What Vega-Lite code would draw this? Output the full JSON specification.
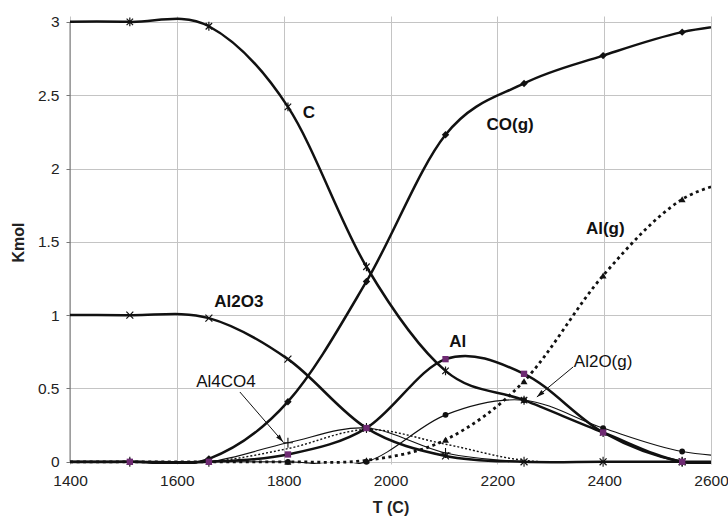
{
  "$schema": "https://vega.github.io/schema/vega-lite/v6.json",
  "width": 641,
  "height": 448,
  "autosize": {"type": "none"},
  "padding": {"left": 70, "top": 16, "right": 17, "bottom": 58},
  "background": "white",
  "config": {"view": {"stroke": null}, "font": "Liberation Sans"},
  "datasets": {
    "series": [
      {"T": 1364, "s": "C", "v": 3}, {"T": 1512, "s": "C", "v": 3}, {"T": 1660, "s": "C", "v": 2.97}, {"T": 1808, "s": "C", "v": 2.42}, {"T": 1955, "s": "C", "v": 1.33}, {"T": 2103, "s": "C", "v": 0.62}, {"T": 2250, "s": "C", "v": 0.42}, {"T": 2398, "s": "C", "v": 0.2}, {"T": 2546, "s": "C", "v": 0}, {"T": 2694, "s": "C", "v": 0},
      {"T": 1364, "s": "CO(g)", "v": 0}, {"T": 1512, "s": "CO(g)", "v": 0}, {"T": 1660, "s": "CO(g)", "v": 0.02}, {"T": 1808, "s": "CO(g)", "v": 0.41}, {"T": 1955, "s": "CO(g)", "v": 1.23}, {"T": 2103, "s": "CO(g)", "v": 2.23}, {"T": 2250, "s": "CO(g)", "v": 2.58}, {"T": 2398, "s": "CO(g)", "v": 2.77}, {"T": 2546, "s": "CO(g)", "v": 2.93}, {"T": 2694, "s": "CO(g)", "v": 3.0},
      {"T": 1364, "s": "Al2O3", "v": 1}, {"T": 1512, "s": "Al2O3", "v": 1}, {"T": 1660, "s": "Al2O3", "v": 0.98}, {"T": 1808, "s": "Al2O3", "v": 0.7}, {"T": 1955, "s": "Al2O3", "v": 0.23}, {"T": 2103, "s": "Al2O3", "v": 0.04}, {"T": 2250, "s": "Al2O3", "v": 0}, {"T": 2398, "s": "Al2O3", "v": 0}, {"T": 2546, "s": "Al2O3", "v": 0}, {"T": 2694, "s": "Al2O3", "v": 0},
      {"T": 1364, "s": "Al", "v": 0}, {"T": 1512, "s": "Al", "v": 0}, {"T": 1660, "s": "Al", "v": 0}, {"T": 1808, "s": "Al", "v": 0.05}, {"T": 1955, "s": "Al", "v": 0.23}, {"T": 2103, "s": "Al", "v": 0.7}, {"T": 2250, "s": "Al", "v": 0.6}, {"T": 2398, "s": "Al", "v": 0.2}, {"T": 2546, "s": "Al", "v": 0}, {"T": 2694, "s": "Al", "v": 0},
      {"T": 1364, "s": "Al(g)", "v": 0}, {"T": 1512, "s": "Al(g)", "v": 0}, {"T": 1660, "s": "Al(g)", "v": 0}, {"T": 1808, "s": "Al(g)", "v": 0}, {"T": 1955, "s": "Al(g)", "v": 0.01}, {"T": 2103, "s": "Al(g)", "v": 0.15}, {"T": 2250, "s": "Al(g)", "v": 0.55}, {"T": 2398, "s": "Al(g)", "v": 1.27}, {"T": 2546, "s": "Al(g)", "v": 1.79}, {"T": 2694, "s": "Al(g)", "v": 1.95},
      {"T": 1364, "s": "Al2O(g)", "v": 0}, {"T": 1512, "s": "Al2O(g)", "v": 0}, {"T": 1660, "s": "Al2O(g)", "v": 0}, {"T": 1808, "s": "Al2O(g)", "v": 0}, {"T": 1955, "s": "Al2O(g)", "v": 0}, {"T": 2103, "s": "Al2O(g)", "v": 0.32}, {"T": 2250, "s": "Al2O(g)", "v": 0.42}, {"T": 2398, "s": "Al2O(g)", "v": 0.23}, {"T": 2546, "s": "Al2O(g)", "v": 0.07}, {"T": 2694, "s": "Al2O(g)", "v": 0.03},
      {"T": 1364, "s": "Al4CO4", "v": 0}, {"T": 1512, "s": "Al4CO4", "v": 0}, {"T": 1660, "s": "Al4CO4", "v": 0}, {"T": 1808, "s": "Al4CO4", "v": 0.13}, {"T": 1955, "s": "Al4CO4", "v": 0.23}, {"T": 2103, "s": "Al4CO4", "v": 0.06}, {"T": 2250, "s": "Al4CO4", "v": 0}, {"T": 2398, "s": "Al4CO4", "v": 0}, {"T": 2546, "s": "Al4CO4", "v": 0}, {"T": 2694, "s": "Al4CO4", "v": 0},
      {"T": 1364, "s": "Al4C3", "v": 0}, {"T": 1512, "s": "Al4C3", "v": 0}, {"T": 1660, "s": "Al4C3", "v": 0}, {"T": 1808, "s": "Al4C3", "v": 0.09}, {"T": 1955, "s": "Al4C3", "v": 0.22}, {"T": 2103, "s": "Al4C3", "v": 0.12}, {"T": 2250, "s": "Al4C3", "v": 0.01}, {"T": 2398, "s": "Al4C3", "v": 0}, {"T": 2546, "s": "Al4C3", "v": 0}, {"T": 2694, "s": "Al4C3", "v": 0}
    ],
    "labelsBold": [
      {"T": 1847, "v": 2.38, "label": "C"},
      {"T": 2224, "v": 2.30, "label": "CO(g)"},
      {"T": 2402, "v": 1.59, "label": "Al(g)"},
      {"T": 1716, "v": 1.09, "label": "Al2O3"},
      {"T": 2126, "v": 0.817, "label": "Al"}
    ],
    "labelsPlain": [
      {"T": 1692, "v": 0.544, "label": "Al4CO4"},
      {"T": 2398, "v": 0.68, "label": "Al2O(g)"}
    ],
    "arrows": [
      {"name": "Al4CO4", "T": 1718, "v": 0.476, "T2": 1799, "v2": 0.135},
      {"name": "Al2O(g)", "T": 2342, "v": 0.647, "T2": 2274, "v2": 0.442}
    ],
    "tips": [
      {"name": "Al4CO4", "T": 1799, "v": 0.135},
      {"name": "Al2O(g)", "T": 2274, "v": 0.442}
    ],
    "axisLine": [
      {"T": 1400, "v": 0, "v2": 3}
    ]
  },
  "data": {"name": "series"},
  "encoding": {
    "x": {
      "field": "T", "type": "quantitative",
      "scale": {"domain": [1400, 2600], "nice": false, "zero": false},
      "axis": {
        "title": "T (C)", "values": [1400, 1600, 1800, 2000, 2200, 2400, 2600], "format": "d",
        "grid": true, "gridColor": "#c4c4c4", "gridWidth": 1, "domain": false, "ticks": false,
        "labelFont": "Liberation Sans", "labelFontSize": 15.5, "labelColor": "#222", "labelPadding": 9,
        "labelFlush": false, "labelOverlap": false,
        "titleFont": "Liberation Sans", "titleFontSize": 16, "titleFontWeight": "bold", "titleColor": "#222",
        "titleX": 320.5, "titleY": 43, "titleBaseline": "middle", "titleAlign": "center"
      }
    },
    "y": {
      "field": "v", "type": "quantitative",
      "scale": {"domain": [-0.015, 3.04], "nice": false, "zero": false},
      "axis": {
        "title": "Kmol", "values": [0, 0.5, 1, 1.5, 2, 2.5, 3], "format": "~g",
        "grid": true, "gridColor": "#c4c4c4", "gridWidth": 1,
        "domain": false, "ticks": true, "tickColor": "#777", "tickSize": 4,
        "labelFont": "Liberation Sans", "labelFontSize": 15.5, "labelColor": "#222", "labelPadding": 7,
        "titleFont": "Liberation Sans", "titleFontSize": 16, "titleFontWeight": "bold", "titleColor": "#222",
        "titleX": -52, "titleY": 226, "titleAngle": -90, "titleBaseline": "middle", "titleAlign": "center"
      }
    }
  },
  "layer": [
    {
      "data": {"name": "axisLine"},
      "mark": {"type": "rule", "strokeWidth": 1, "color": "#777"},
      "encoding": {"y2": {"field": "v2"}}
    },
    {
      "transform": [{"filter": {"field": "s", "oneOf": ["Al4C3"]}}],
      "mark": {"type": "line", "interpolate": "cardinal", "strokeWidth": 1.4, "strokeDash": [2, 2], "color": "#111", "clip": true},
      "encoding": {"detail": {"field": "s"}}
    },
    {
      "transform": [{"filter": {"field": "s", "oneOf": ["Al2O(g)", "Al4CO4"]}}],
      "mark": {"type": "line", "interpolate": "cardinal", "strokeWidth": 1.1, "color": "#111", "clip": true},
      "encoding": {"detail": {"field": "s"}}
    },
    {
      "transform": [{"filter": {"field": "s", "oneOf": ["Al(g)"]}}],
      "mark": {"type": "line", "interpolate": "cardinal", "strokeWidth": 2.8, "strokeDash": [3, 3.5], "color": "#111", "clip": true},
      "encoding": {"detail": {"field": "s"}}
    },
    {
      "transform": [{"filter": {"field": "s", "oneOf": ["C", "CO(g)", "Al2O3", "Al"]}}],
      "mark": {"type": "line", "interpolate": "cardinal", "strokeWidth": 2.5, "color": "#111", "clip": true},
      "encoding": {"detail": {"field": "s"}}
    },
    {
      "transform": [{"filter": {"and": [{"field": "s", "equal": "Al2O(g)"}, {"field": "T", "range": [1400, 2600]}]}}],
      "mark": {"type": "point", "shape": "circle", "filled": true, "size": 34, "color": "#111", "opacity": 1}
    },
    {
      "transform": [{"filter": {"and": [{"field": "s", "equal": "Al4CO4"}, {"field": "T", "range": [1400, 2600]}]}}],
      "mark": {"type": "point", "shape": "M0,-1L0,1M-1,0L1,0", "filled": false, "size": 100, "stroke": "#111", "strokeWidth": 1.1, "opacity": 1}
    },
    {
      "transform": [{"filter": {"and": [{"field": "s", "equal": "Al(g)"}, {"field": "T", "range": [1400, 2600]}]}}],
      "mark": {"type": "point", "shape": "triangle-up", "filled": true, "size": 48, "color": "#111", "opacity": 1}
    },
    {
      "transform": [{"filter": {"and": [{"field": "s", "equal": "CO(g)"}, {"field": "T", "range": [1400, 2600]}]}}],
      "mark": {"type": "point", "shape": "diamond", "filled": true, "size": 55, "color": "#111", "opacity": 1}
    },
    {
      "transform": [{"filter": {"and": [{"field": "s", "equal": "Al2O3"}, {"field": "T", "range": [1400, 2600]}]}}],
      "mark": {"type": "point", "shape": "M-1,-1L1,1M-1,1L1,-1", "filled": false, "size": 48, "stroke": "#111", "strokeWidth": 1.2, "opacity": 1}
    },
    {
      "transform": [{"filter": {"and": [{"field": "s", "equal": "C"}, {"field": "T", "range": [1400, 2600]}]}}],
      "mark": {"type": "point", "shape": "M-0.8,-0.8L0.8,0.8M-0.8,0.8L0.8,-0.8M0,-1.1L0,1.1", "filled": false, "size": 65, "stroke": "#111", "strokeWidth": 1.2, "opacity": 1}
    },
    {
      "transform": [{"filter": {"and": [{"field": "s", "equal": "Al"}, {"field": "T", "range": [1400, 2600]}]}}],
      "mark": {"type": "point", "shape": "square", "filled": true, "size": 40, "color": "#6e2a72", "opacity": 1}
    },
    {
      "data": {"name": "arrows"},
      "mark": {"type": "rule", "strokeWidth": 1, "color": "#111"},
      "encoding": {"x2": {"field": "T2"}, "y2": {"field": "v2"}}
    },
    {
      "data": {"name": "tips"},
      "transform": [{"filter": {"field": "name", "equal": "Al4CO4"}}],
      "mark": {"type": "point", "shape": "M0,0L0.45,1.5L-0.45,1.5Z", "filled": true, "size": 110, "color": "#111", "opacity": 1, "angle": 139}
    },
    {
      "data": {"name": "tips"},
      "transform": [{"filter": {"field": "name", "equal": "Al2O(g)"}}],
      "mark": {"type": "point", "shape": "M0,0L0.45,1.5L-0.45,1.5Z", "filled": true, "size": 110, "color": "#111", "opacity": 1, "angle": 230}
    },
    {
      "data": {"name": "labelsBold"},
      "mark": {"type": "text", "font": "Liberation Sans", "fontSize": 17, "fontWeight": "bold", "color": "#111", "align": "center", "baseline": "middle"},
      "encoding": {"text": {"field": "label"}}
    },
    {
      "data": {"name": "labelsPlain"},
      "mark": {"type": "text", "font": "Liberation Sans", "fontSize": 17, "color": "#111", "align": "center", "baseline": "middle"},
      "encoding": {"text": {"field": "label"}}
    }
  ]
}
